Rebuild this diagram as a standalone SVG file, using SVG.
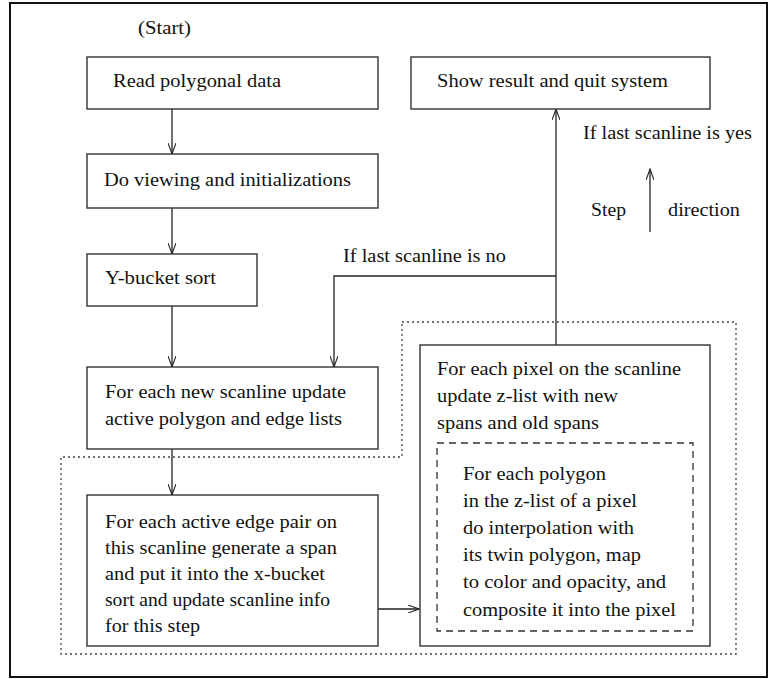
<svg xmlns="http://www.w3.org/2000/svg" width="768" height="679" viewBox="0 0 768 679">
<defs>
<style>
text{font-family:"Liberation Serif","Times New Roman",serif;font-size:18.5px;fill:#111}
.box{fill:#fff;stroke:#333;stroke-width:1.4}
.ln{fill:none;stroke:#222;stroke-width:1.3}
.dot{fill:none;stroke:#444;stroke-width:1.3;stroke-dasharray:2 3}
.dash{fill:none;stroke:#333;stroke-width:1.3;stroke-dasharray:7 5}
</style>
<marker id="ah" viewBox="0 0 12 8" refX="11" refY="4" markerWidth="12" markerHeight="8" markerUnits="userSpaceOnUse" orient="auto">
<path d="M0,0 L11,4 L0,8" fill="none" stroke="#222" stroke-width="1.1"/>
</marker>
</defs>
<rect x="10" y="3" width="757" height="674" fill="#fff" stroke="#111" stroke-width="2"/>
<text x="138" y="34" textLength="53" lengthAdjust="spacingAndGlyphs">(Start)</text>
<g id="dotted-region">
<path class="dot" d="M402,322 H736 V654 H61 V457 H402 Z"/>
</g>
<g id="connectors">
<line class="ln" x1="172" y1="109" x2="172" y2="154" marker-end="url(#ah)"/>
<line class="ln" x1="172" y1="208" x2="172" y2="254" marker-end="url(#ah)"/>
<line class="ln" x1="172" y1="306" x2="172" y2="367" marker-end="url(#ah)"/>
<line class="ln" x1="172" y1="449" x2="172" y2="495" marker-end="url(#ah)"/>
<line class="ln" x1="378" y1="609" x2="419" y2="609" marker-end="url(#ah)"/>
<line class="ln" x1="556" y1="345" x2="556" y2="109" marker-end="url(#ah)"/>
<polyline class="ln" points="556,276 334,276 334,367" marker-end="url(#ah)"/>
<line class="ln" x1="650" y1="232" x2="650" y2="169" marker-end="url(#ah)"/>
<text x="343" y="262" textLength="163" lengthAdjust="spacingAndGlyphs">If last scanline is no</text>
<text x="583" y="139" textLength="169" lengthAdjust="spacingAndGlyphs">If last scanline is yes</text>
<text x="591" y="216" textLength="35" lengthAdjust="spacingAndGlyphs">Step</text>
<text x="668" y="216" textLength="72" lengthAdjust="spacingAndGlyphs">direction</text>
</g>
<g id="read">
<rect class="box" x="87" y="57" width="291" height="52"/>
<text x="113" y="87" textLength="168" lengthAdjust="spacingAndGlyphs">Read polygonal data</text>
</g>
<g id="viewing">
<rect class="box" x="87" y="154" width="291" height="54"/>
<text x="104" y="186" textLength="247" lengthAdjust="spacingAndGlyphs">Do viewing and initializations</text>
</g>
<g id="ybucket">
<rect class="box" x="87" y="254" width="170" height="52"/>
<text x="105" y="284" textLength="111" lengthAdjust="spacingAndGlyphs">Y-bucket sort</text>
</g>
<g id="show">
<rect class="box" x="411" y="57" width="299" height="52"/>
<text x="437" y="87" textLength="231" lengthAdjust="spacingAndGlyphs">Show result and quit system</text>
</g>
<g id="newscan">
<rect class="box" x="87" y="367" width="291" height="82"/>
<text x="105" y="398" textLength="241" lengthAdjust="spacingAndGlyphs">For each new scanline update</text>
<text x="105" y="425" textLength="237" lengthAdjust="spacingAndGlyphs">active polygon and edge lists</text>
</g>
<g id="edgepair">
<rect class="box" x="87" y="495" width="291" height="151"/>
<text x="105" y="528" textLength="232" lengthAdjust="spacingAndGlyphs">For each active edge pair on</text>
<text x="105" y="554" textLength="232" lengthAdjust="spacingAndGlyphs">this scanline generate a span</text>
<text x="105" y="580" textLength="220" lengthAdjust="spacingAndGlyphs">and put it into the x-bucket</text>
<text x="105" y="606" textLength="225" lengthAdjust="spacingAndGlyphs">sort and update scanline info</text>
<text x="105" y="632" textLength="95" lengthAdjust="spacingAndGlyphs">for this step</text>
</g>
<g id="pixel">
<rect class="box" x="420" y="345" width="290" height="301"/>
<text x="437" y="375" textLength="244" lengthAdjust="spacingAndGlyphs">For each pixel on the scanline</text>
<text x="437" y="402" textLength="181" lengthAdjust="spacingAndGlyphs">update z-list with new</text>
<text x="437" y="429" textLength="162" lengthAdjust="spacingAndGlyphs">spans and old spans</text>
</g>
<g id="polygon">
<rect class="dash" x="437" y="443" width="256" height="188"/>
<text x="463" y="480" textLength="143" lengthAdjust="spacingAndGlyphs">For each polygon</text>
<text x="463" y="507" textLength="174" lengthAdjust="spacingAndGlyphs">in the z-list of a pixel</text>
<text x="463" y="534" textLength="171" lengthAdjust="spacingAndGlyphs">do interpolation with</text>
<text x="463" y="561" textLength="178" lengthAdjust="spacingAndGlyphs">its twin polygon, map</text>
<text x="463" y="588" textLength="203" lengthAdjust="spacingAndGlyphs">to color and opacity, and</text>
<text x="463" y="616" textLength="213" lengthAdjust="spacingAndGlyphs">composite it into the pixel</text>
</g>
</svg>
